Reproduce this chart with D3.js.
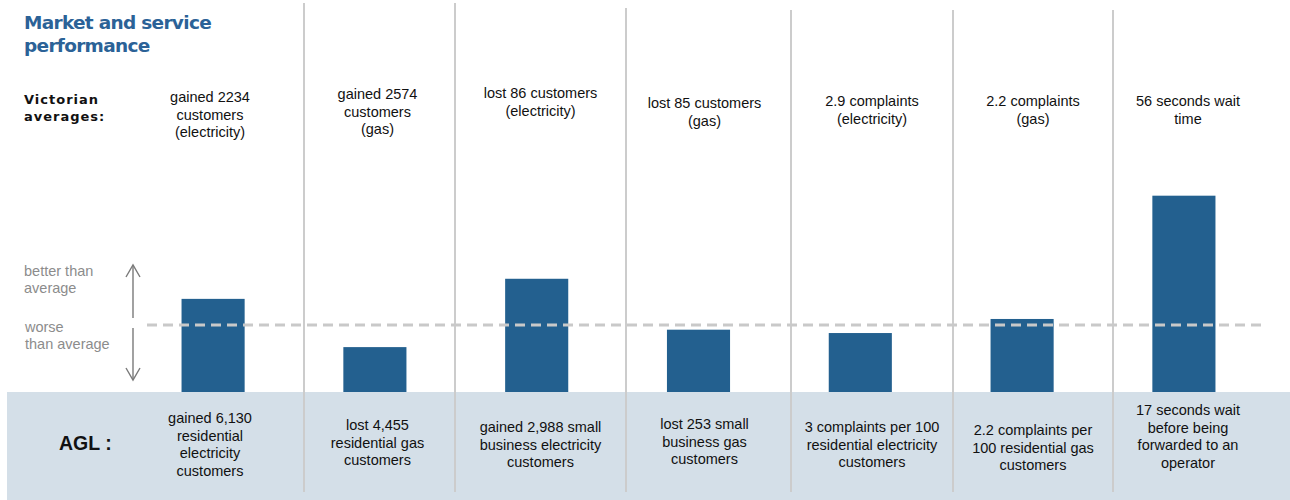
<!DOCTYPE html>
<html><head><meta charset="utf-8">
<script src="https://cdn.jsdelivr.net/npm/d3@7"></script>
<style>body{margin:0;background:#fff} svg{display:block}</style>
</head><body><svg id="chart" width="1290" height="500"></svg>
<script>
// ---------- data ----------
const categories = ["Residential electricity", "Residential gas", "Small business electricity", "Small business gas", "Electricity complaints", "Gas complaints", "Call wait time"];
// AGL performance relative to the Victorian average (1 = average; higher = better)
const aglIndex = [1.39, 0.67, 1.69, 0.93, 0.88, 1.09, 2.93];
const averageIndex = 1;
const victorianLabels = [
  ["gained 2234", "customers", "(electricity)"],
  ["gained 2574", "customers", "(gas)"],
  ["lost 86 customers", "(electricity)"],
  ["lost 85 customers", "(gas)"],
  ["2.9 complaints", "(electricity)"],
  ["2.2 complaints", "(gas)"],
  ["56 seconds wait", "time"]
];
const aglLabels = [
  ["gained 6,130", "residential", "electricity", "customers"],
  ["lost 4,455", "residential gas", "customers"],
  ["gained 2,988 small", "business electricity", "customers"],
  ["lost 253 small", "business gas", "customers"],
  ["3 complaints per 100", "residential electricity", "customers"],
  ["2.2 complaints per", "100 residential gas", "customers"],
  ["17 seconds wait", "before being", "forwarded to an", "operator"]
];
const titleLines = ["Market and service", "performance"];
const rowLabelTop = ["Victorian", "averages:"];
const rowLabelBottom = "AGL :";
const betterLabel = ["better than", "average"];
const worseLabel = ["worse", "than average"];

// ---------- layout ----------
const W = 1290, H = 500;
const baseY = 392;
const colEdges = [116, 304, 455, 626, 791, 953, 1113, 1265];
const colShift = [0, -2, 0, -4, 0, 0, -1];
const sepTops = [3, 3, 8, 10, 10, 10];
const topFirstBaseline = [102, 99, 98, 108, 106, 106, 106];
const botFirstBaseline = [423, 430, 432, 429, 432, 435, 415];
const lineH = 17.5;
const barColor = "#23608f";
const sepColor = "#cccccc";

const svg = d3.select("#chart");

const x = d3.scaleBand().domain(categories).range([133, 1264]).paddingInner(0.61).paddingOuter(0.3);
const y = d3.scaleLinear().domain([0, averageIndex]).range([baseY, 325]);

// bottom band
svg.append("rect").attr("x", 7).attr("y", baseY).attr("width", W - 7).attr("height", H - baseY).attr("fill", "#d4dfe8");

// separators
svg.append("g").selectAll("line").data(colEdges.slice(1, -1)).join("line")
  .attr("x1", d => d).attr("x2", d => d)
  .attr("y1", (d, i) => sepTops[i]).attr("y2", 492)
  .attr("stroke", sepColor).attr("stroke-width", 2);

// title
svg.append("text").attr("font-family", "DejaVu Sans, Verdana, sans-serif").attr("font-weight", "bold")
  .attr("font-size", 18.5).attr("letter-spacing", -0.7).attr("fill", "#2b6297")
  .selectAll("tspan").data(titleLines).join("tspan")
  .attr("x", 24).attr("y", (d, i) => 29 + i * 23).text(d => d);

// row label top
svg.append("text").attr("font-family", "DejaVu Sans, Verdana, sans-serif").attr("font-weight", "bold")
  .attr("font-size", 13).attr("letter-spacing", 1).attr("fill", "#111")
  .selectAll("tspan").data(rowLabelTop).join("tspan")
  .attr("x", 24).attr("y", (d, i) => 104 + i * 17).text(d => d);

// AGL label
svg.append("text").attr("x", 59).attr("y", 450).attr("font-family", "Liberation Sans, Arial, sans-serif")
  .attr("font-weight", "bold").attr("font-size", 19.5).attr("fill", "#111").text(rowLabelBottom);

// better/worse labels
const gray = "#8c8c8c";
svg.append("text").attr("font-family", "Liberation Sans, Arial, sans-serif").attr("font-size", 14.5).attr("fill", gray)
  .selectAll("tspan").data(betterLabel).join("tspan")
  .attr("x", 24).attr("y", (d, i) => 276 + i * 17).text(d => d);
svg.append("text").attr("font-family", "Liberation Sans, Arial, sans-serif").attr("font-size", 14.5).attr("fill", gray)
  .selectAll("tspan").data(worseLabel).join("tspan")
  .attr("x", 25).attr("y", (d, i) => 332 + i * 16.5).text(d => d);

// arrows
const ax = 133;
const arrow = svg.append("g").attr("stroke", "#7a7a7a").attr("stroke-width", 1.4).attr("fill", "none");
arrow.append("line").attr("x1", ax).attr("x2", ax).attr("y1", 265).attr("y2", 318);
arrow.append("path").attr("d", `M${ax - 7},${277} L${ax},${265} L${ax + 7},${277}`);
arrow.append("line").attr("x1", ax).attr("x2", ax).attr("y1", 328).attr("y2", 380);
arrow.append("path").attr("d", `M${ax - 7},${368} L${ax},${380} L${ax + 7},${368}`);

// bars
svg.append("g").selectAll("rect").data(categories).join("rect")
  .attr("x", d => x(d)).attr("width", x.bandwidth())
  .attr("y", (d, i) => y(aglIndex[i]))
  .attr("height", (d, i) => baseY - y(aglIndex[i]))
  .attr("fill", barColor);

// average dashed line
svg.append("line").attr("x1", 147).attr("x2", 1262).attr("y1", y(averageIndex)).attr("y2", y(averageIndex))
  .attr("stroke", "#c9c9c9").attr("stroke-width", 3).attr("stroke-dasharray", "10,6");

// column labels
const colCenter = i => (colEdges[i] + colEdges[i + 1]) / 2 + colShift[i];
const textFont = "Liberation Sans, Arial, sans-serif";
categories.forEach((c, i) => {
  svg.append("text").attr("font-family", textFont).attr("font-size", 14.5).attr("fill", "#111")
    .attr("text-anchor", "middle")
    .selectAll("tspan").data(victorianLabels[i]).join("tspan")
    .attr("x", colCenter(i)).attr("y", (d, j) => topFirstBaseline[i] + j * lineH).text(d => d);
  svg.append("text").attr("font-family", textFont).attr("font-size", 14.5).attr("fill", "#111")
    .attr("text-anchor", "middle")
    .selectAll("tspan").data(aglLabels[i]).join("tspan")
    .attr("x", colCenter(i)).attr("y", (d, j) => botFirstBaseline[i] + j * lineH).text(d => d);
});
</script></body></html>
